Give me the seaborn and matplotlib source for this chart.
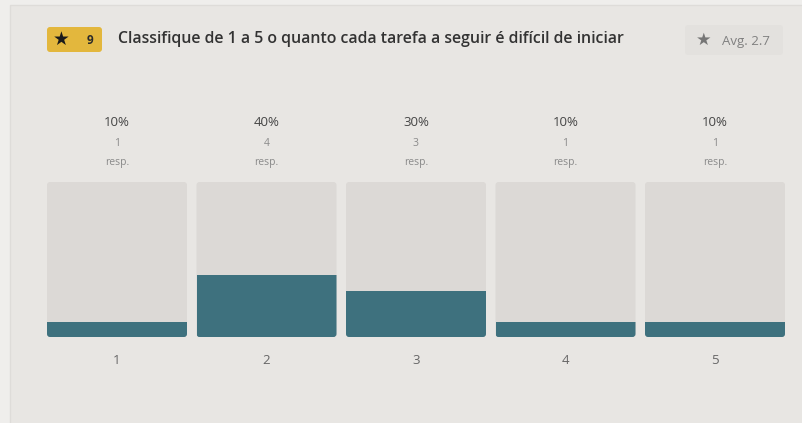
import matplotlib
matplotlib.use("Agg")
import matplotlib.pyplot as plt
from matplotlib.patches import FancyBboxPatch, Rectangle
import seaborn as sns
import pandas as pd

# Survey results
ratings = ["1", "2", "3", "4", "5"]
percents = [10, 40, 30, 10, 10]
responses = [1, 4, 3, 1, 1]
question = "Classifique de 1 a 5 o quanto cada tarefa a seguir é difícil de iniciar"
question_number = 9
average = 2.7

W, H = 803, 423
BG_OUT = "#efeeec"
CARD = "#e8e6e3"
TRACK = "#dcd9d6"
FILL = "#3e717e"

sns.set_theme(style="white")
plt.rcParams["font.family"] = ["Open Sans", "DejaVu Sans"]

fig = plt.figure(figsize=(W / 100, H / 100), dpi=100)
fig.patch.set_facecolor(BG_OUT)

# Full-figure overlay in pixel coordinates for the card and header
bg = fig.add_axes([0, 0, 1, 1])
bg.set_xlim(0, W)
bg.set_ylim(H, 0)
bg.axis("off")
bg.add_patch(Rectangle((10, 5), W, H, facecolor=CARD, edgecolor="#dedcd9", lw=1))

# Question badge
bg.add_patch(FancyBboxPatch((47, 27), 55, 25, boxstyle="round,pad=0,rounding_size=3",
                            facecolor="#e3b73d", edgecolor="none"))
bg.text(61, 39, "★", ha="center", va="center", fontsize=13.5, color="#1a1a1a",
        family=["DejaVu Sans"])
bg.text(90, 40, str(question_number), ha="center", va="center", fontsize=8.5,
        fontweight="bold", color="#2a2a2a")
bg.text(118, 39, question, ha="left", va="center", fontsize=11.4,
        fontweight="semibold", color="#333333")

# Average box
bg.add_patch(FancyBboxPatch((685, 25), 98, 30, boxstyle="round,pad=0,rounding_size=3",
                            facecolor="#e3e1de", edgecolor="none"))
bg.text(704, 40, "★", ha="center", va="center", fontsize=12.5, color="#767676",
        family=["DejaVu Sans"])
bg.text(722, 41, f"Avg. {average}", ha="left", va="center", fontsize=9.5,
        color="#808080")

# Bar axes
x0, x1, ytop, ybot = 47, 785, 182, 337
slot = 149.5
ax = fig.add_axes([x0 / W, 1 - ybot / H, (x1 - x0) / W, (ybot - ytop) / H])
ax.set_facecolor("none")

df = pd.DataFrame({"rating": ratings, "percent": percents, "full": [100] * len(ratings)})
bw = 140 / slot
sns.barplot(data=df, x="rating", y="full", color=TRACK, width=bw, ax=ax,
            saturation=1, linewidth=0)
n_track = len(ax.patches)
sns.barplot(data=df, x="rating", y="percent", color=FILL, width=bw, ax=ax,
            saturation=1, linewidth=0)

ax.set_xlim(-0.5 + (1 - bw) / 2, len(ratings) - 0.5 - (1 - bw) / 2)
ax.set_ylim(0, 100)
ax.axis("off")

# Round the track corners; clip the filled part to the rounded track
px_x = 1 / slot
px_y = 100 / (ybot - ytop)
r = 3 * px_x
aspect = px_y / px_x
tracks = list(ax.patches[:n_track])
fills = list(ax.patches[n_track:])
for tr, fl in zip(tracks, fills):
    rounded = FancyBboxPatch((tr.get_x(), tr.get_y()), tr.get_width(), tr.get_height(),
                             boxstyle=f"round,pad=0,rounding_size={r}",
                             mutation_aspect=aspect, facecolor=TRACK, edgecolor="none",
                             zorder=1)
    tr.remove()
    ax.add_patch(rounded)
    fl.set_zorder(2)
    fl.set_clip_path(rounded)

# Labels above and below each bar
for i, (p, n, lab) in enumerate(zip(percents, responses, ratings)):
    cx = x0 + 70 + i * slot
    bg.text(cx, 122, f"{p}%", ha="center", va="center", fontsize=9.5, color="#454545")
    bg.text(cx, 144, str(n), ha="center", va="center", fontsize=7.5, color="#8a8a8a")
    bg.text(cx, 162, "resp.", ha="center", va="center", fontsize=7.5, color="#8a8a8a")
    bg.text(cx, 361, lab, ha="center", va="center", fontsize=9.5, color="#666666")

fig.savefig("out.png", dpi=100, facecolor=fig.get_facecolor())
